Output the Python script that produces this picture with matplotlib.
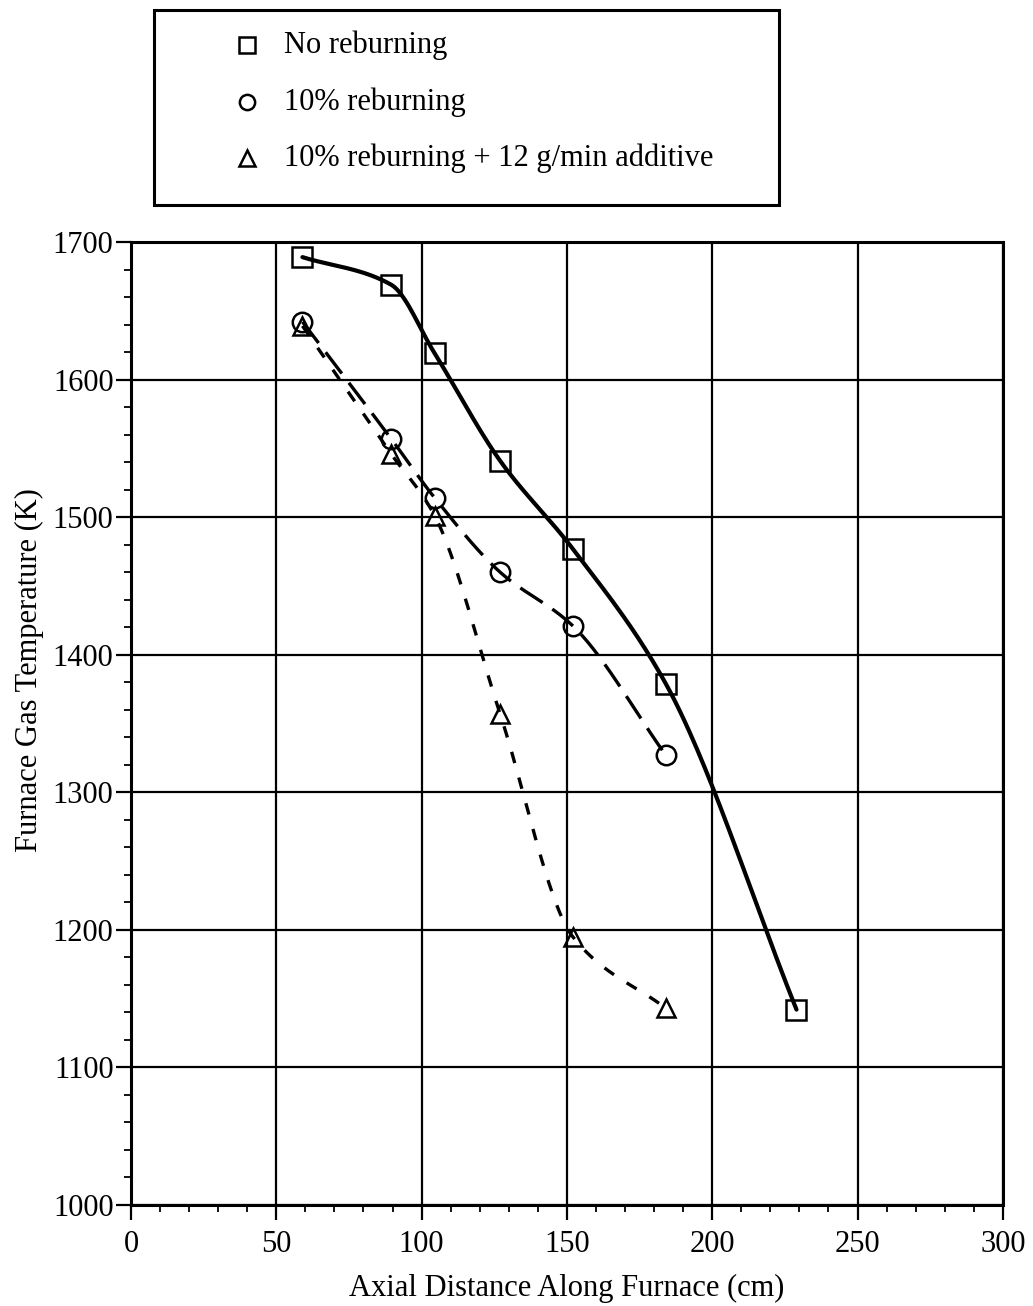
import numpy as np
import matplotlib
matplotlib.use("Agg")
from matplotlib import pyplot as plt
from matplotlib.lines import Line2D
from matplotlib.patches import Rectangle
from matplotlib.ticker import MultipleLocator

plt.rcParams['font.family'] = ['Liberation Serif', 'DejaVu Serif']

# axial positions (cm) and gas temperatures (K)
dist = [59, 89.5, 104.5, 127, 152, 184, 229]
temp_no_reburn = [1689, 1669, 1619, 1541, 1477, 1379, 1142]

dist_reburn = [59, 89.5, 104.5, 127, 152, 184]
temp_reburn = [1642, 1557, 1514, 1460, 1421, 1327]
temp_additive = [1639, 1546, 1501, 1357, 1195, 1143]

labels = ["No reburning", "10% reburning",
          "10% reburning + 12 g/min additive"]


def smooth(x, y, n=200):
    # monotone cubic (Fritsch-Carlson) through the measured points
    x = np.asarray(x, float)
    y = np.asarray(y, float)
    h = np.diff(x)
    d = np.diff(y) / h
    m = np.zeros_like(y)
    m[0] = d[0]
    m[-1] = d[-1]
    for k in range(1, len(x) - 1):
        if d[k-1] * d[k] > 0:
            w1 = 2*h[k] + h[k-1]
            w2 = h[k] + 2*h[k-1]
            m[k] = (w1 + w2) / (w1/d[k-1] + w2/d[k])
    xs = np.linspace(x[0], x[-1], n)
    idx = np.clip(np.searchsorted(x, xs) - 1, 0, len(x) - 2)
    t = (xs - x[idx]) / h[idx]
    h00 = 2*t**3 - 3*t**2 + 1
    h10 = t**3 - 2*t**2 + t
    h01 = -2*t**3 + 3*t**2
    h11 = t**3 - t**2
    ys = h00*y[idx] + h10*h[idx]*m[idx] + h01*y[idx+1] + h11*h[idx]*m[idx+1]
    return xs, ys


fig = plt.figure(figsize=(10.33, 13.06), dpi=100)
ax = fig.add_axes([0.1268, 0.0774, 0.844, 0.7373])

mk = dict(linestyle='none', markerfacecolor='none', markeredgecolor='black',
          markeredgewidth=1.8)

xs, ys = smooth(dist, temp_no_reburn)
ax.plot(xs, ys, color='black', lw=3.0, solid_capstyle='round')
ax.plot(dist, temp_no_reburn, marker='s', markersize=14, **mk)

xs, ys = smooth(dist_reburn, temp_reburn)
ax.plot(xs, ys, color='black', lw=2.4, dashes=(8, 3.5))
ax.plot(dist_reburn, temp_reburn, marker='o', markersize=14, **mk)

xs, ys = smooth(dist_reburn, temp_additive)
ax.plot(xs, ys, color='black', lw=2.4, dashes=(3.5, 4.5))
ax.plot(dist_reburn, temp_additive, marker='^', markersize=13, **mk)

ax.set_xlim(0, 300)
ax.set_ylim(1000, 1700)
ax.xaxis.set_major_locator(MultipleLocator(50))
ax.xaxis.set_minor_locator(MultipleLocator(10))
ax.yaxis.set_major_locator(MultipleLocator(100))
ax.yaxis.set_minor_locator(MultipleLocator(20))
ax.grid(True, which='major', color='black', lw=1.6)
for s in ax.spines.values():
    s.set_linewidth(2.2)
ax.tick_params(which='major', direction='out', length=11, width=1.6,
               labelsize=22)
ax.tick_params(which='minor', direction='out', length=5, width=1.3)
ax.tick_params(axis='x', which='major', pad=7)
ax.tick_params(axis='y', which='major', pad=1.5)

ax.set_xlabel("Axial Distance Along Furnace (cm)", fontsize=22)
ax.set_ylabel("Furnace Gas Temperature (K)", fontsize=22)
ax.xaxis.set_label_coords(0.5, -0.072)
ax.yaxis.set_label_coords(-0.1, 0.555)

# boxed key above the plot
fig.add_artist(Rectangle((0.149, 0.843), 0.605, 0.149, transform=fig.transFigure,
                         fill=False, lw=2.2, edgecolor='black'))
rows = [0.9655, 0.922, 0.879]
for label, m, y in zip(labels, ['s', 'o', '^'], rows):
    fig.add_artist(Line2D([0.239], [y], marker=m, markersize=11,
                          transform=fig.transFigure, **mk))
    fig.text(0.275, y, label, fontsize=22, va='center')

fig.savefig("out.png", dpi=100)
